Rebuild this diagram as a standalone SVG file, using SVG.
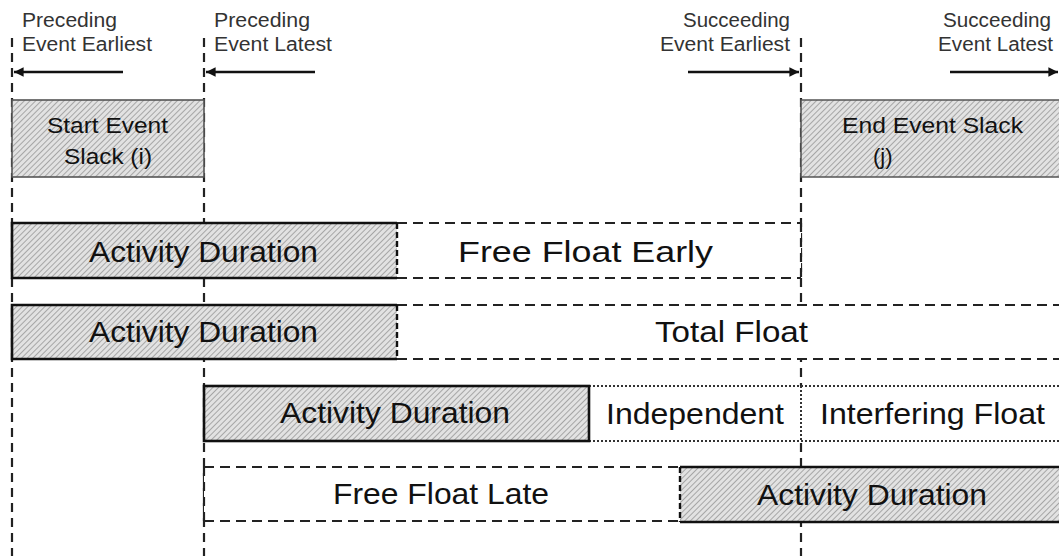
<svg xmlns="http://www.w3.org/2000/svg" width="1059" height="556" viewBox="0 0 1059 556">
<defs>
<pattern id="hatch" width="4" height="4" patternUnits="userSpaceOnUse" patternTransform="rotate(45)">
<rect width="4" height="4" fill="#e2e2e2"/>
<line x1="0" y1="0" x2="0" y2="4" stroke="#858585" stroke-width="1.3"/>
</pattern>
<marker id="ah" viewBox="0 0 10 10" refX="10" refY="5" markerWidth="4" markerHeight="4" orient="auto" markerUnits="strokeWidth">
<path d="M0,0 L10,5 L0,10 Z" fill="#111"/>
</marker>
<style>
text{font-family:"Liberation Sans",Arial,sans-serif}
.top{font-size:20px;fill:#333}
.box{font-size:22px;fill:#111}
.big{font-size:29px;fill:#111}
.vdash{stroke:#222;stroke-width:2.2;stroke-dasharray:9,6;fill:none}
.hdash{stroke:#222;stroke-width:2;stroke-dasharray:10,6;fill:none}
.dot{stroke:#333;stroke-width:2;stroke-dasharray:2,2;fill:none}
.solid{stroke:#111;stroke-width:2.6;fill:none}
.edge{stroke:#111;stroke-width:2.4;stroke-dasharray:6,3;fill:none}
.thin{stroke:#555;stroke-width:1.6;fill:none}
.hatched{fill:url(#hatch);stroke:none}
.blank{fill:#fff;stroke:none}
.arrow{stroke:#111;stroke-width:2.4;fill:none;marker-end:url(#ah)}
</style>
</defs>
<rect width="1059" height="556" fill="#fff"/>
<g id="connectors">
<line class="vdash" x1="12" y1="38" x2="12" y2="556"/>
<line class="vdash" x1="204" y1="38" x2="204" y2="556"/>
<line class="vdash" x1="801" y1="38" x2="801" y2="556"/>
<line class="arrow" x1="123" y1="72" x2="14" y2="72"/>
<line class="arrow" x1="315" y1="72" x2="206" y2="72"/>
<line class="arrow" x1="688" y1="72" x2="799" y2="72"/>
<line class="arrow" x1="950" y1="72" x2="1058" y2="72"/>
</g>
<g id="labels-top">
<text class="top" x="22" y="27" textLength="95" lengthAdjust="spacingAndGlyphs">Preceding</text>
<text class="top" x="22" y="51" textLength="130" lengthAdjust="spacingAndGlyphs">Event Earliest</text>
<text class="top" x="214" y="27" textLength="96" lengthAdjust="spacingAndGlyphs">Preceding</text>
<text class="top" x="214" y="51" textLength="118" lengthAdjust="spacingAndGlyphs">Event Latest</text>
<text class="top" x="683" y="27" textLength="107" lengthAdjust="spacingAndGlyphs">Succeeding</text>
<text class="top" x="660" y="51" textLength="130" lengthAdjust="spacingAndGlyphs">Event Earliest</text>
<text class="top" x="943" y="27" textLength="108" lengthAdjust="spacingAndGlyphs">Succeeding</text>
<text class="top" x="938" y="51" textLength="115" lengthAdjust="spacingAndGlyphs">Event Latest</text>
</g>
<g id="start-slack">
<rect class="hatched" x="12" y="100" width="192" height="77"/>
<rect class="thin" x="12" y="100" width="192" height="77"/>
<text class="box" x="47" y="133" textLength="121" lengthAdjust="spacingAndGlyphs">Start Event</text>
<text class="box" x="64" y="164" textLength="88" lengthAdjust="spacingAndGlyphs">Slack (i)</text>
</g>
<g id="end-slack">
<rect class="hatched" x="801" y="100" width="260" height="77"/>
<path class="thin" d="M1059,100 H801 V177 H1059"/>
<text class="box" x="842" y="133" textLength="181" lengthAdjust="spacingAndGlyphs">End Event Slack</text>
<text class="box" x="873" y="164">(j)</text>
</g>
<g id="row1-ffe">
<rect class="blank" x="397" y="223" width="404" height="55"/>
<line class="hdash" x1="397" y1="223" x2="801" y2="223"/>
<line class="hdash" x1="397" y1="278" x2="801" y2="278"/>
<line class="vdash" x1="801" y1="223" x2="801" y2="278"/>
<text class="big" x="458" y="262" textLength="255" lengthAdjust="spacingAndGlyphs">Free Float Early</text>
</g>
<g id="row1-ad">
<rect class="hatched" x="12" y="223" width="385" height="55"/>
<path class="solid" d="M397,223 H12 V278 H397"/>
<line class="edge" x1="397" y1="223" x2="397" y2="278"/>
<text class="big" x="89" y="262" textLength="229" lengthAdjust="spacingAndGlyphs">Activity Duration</text>
</g>
<g id="row2-tf">
<rect class="blank" x="397" y="305" width="662" height="54"/>
<line class="hdash" x1="397" y1="305" x2="1059" y2="305"/>
<line class="hdash" x1="397" y1="359" x2="1059" y2="359"/>
<text class="big" x="655" y="342" textLength="153" lengthAdjust="spacingAndGlyphs">Total Float</text>
</g>
<g id="row2-ad">
<rect class="hatched" x="12" y="305" width="385" height="54"/>
<path class="solid" d="M397,305 H12 V359 H397"/>
<line class="edge" x1="397" y1="305" x2="397" y2="359"/>
<text class="big" x="89" y="342" textLength="229" lengthAdjust="spacingAndGlyphs">Activity Duration</text>
</g>
<g id="row3-ind">
<rect class="blank" x="589" y="386" width="470" height="55"/>
<line class="dot" x1="589" y1="386" x2="1059" y2="386"/>
<line class="dot" x1="589" y1="441" x2="1059" y2="441"/>
<line class="dot" x1="801" y1="386" x2="801" y2="441"/>
<text class="big" x="606" y="424" textLength="178" lengthAdjust="spacingAndGlyphs">Independent</text>
<text class="big" x="820" y="424" textLength="225" lengthAdjust="spacingAndGlyphs">Interfering Float</text>
</g>
<g id="row3-ad">
<rect class="hatched" x="204" y="386" width="385" height="55"/>
<rect class="solid" x="204" y="386" width="385" height="55"/>
<text class="big" x="280" y="423" textLength="230" lengthAdjust="spacingAndGlyphs">Activity Duration</text>
</g>
<g id="row4-ffl">
<rect class="blank" x="204" y="467" width="476" height="54"/>
<line class="hdash" x1="204" y1="467" x2="680" y2="467"/>
<line class="hdash" x1="204" y1="521" x2="680" y2="521"/>
<line class="vdash" x1="204" y1="467" x2="204" y2="521"/>
<text class="big" x="333" y="504" textLength="216" lengthAdjust="spacingAndGlyphs">Free Float Late</text>
</g>
<g id="row4-ad">
<rect class="hatched" x="680" y="467" width="379" height="55"/>
<line class="solid" x1="680" y1="467" x2="1059" y2="467"/>
<line class="solid" x1="680" y1="522" x2="1059" y2="522"/>
<line class="edge" x1="680" y1="467" x2="680" y2="522"/>
<text class="big" x="757" y="505" textLength="230" lengthAdjust="spacingAndGlyphs">Activity Duration</text>
</g>
</svg>
